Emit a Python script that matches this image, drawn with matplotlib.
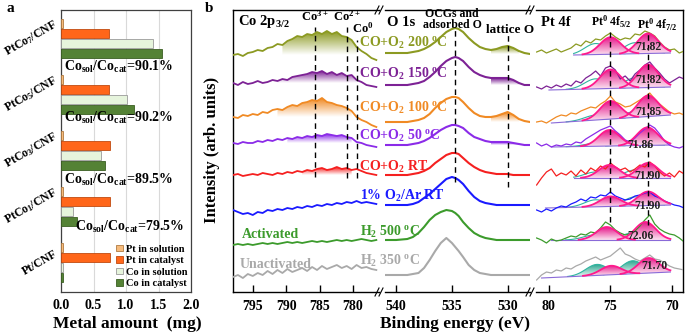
import numpy as np
import matplotlib
matplotlib.use('Agg')
import matplotlib.pyplot as plt
from matplotlib.patches import Polygon
from matplotlib.colors import to_rgb
from matplotlib.lines import Line2D
from matplotlib.ticker import FormatStrFormatter

# ---------------- data: panel a ----------------
categories = ['PtCo$_7$/CNF', 'PtCo$_5$/CNF', 'PtCo$_3$/CNF', 'PtCo$_1$/CNF', 'Pt/CNF']
pt_solution = [0.03, 0.03, 0.03, 0.03, 0.03]
pt_catalyst = [0.74, 0.74, 0.75, 0.75, 0.76]
co_solution = [1.42, 1.02, 0.62, 0.19, 0.03]
co_catalyst = [1.56, 1.13, 0.68, 0.24, 0.03]
ratio_labels = ['90.1%', '90.2%', '89.5%', '79.5%']
legend_labels = ['Pt in solution', 'Pt in catalyst', 'Co in solution', 'Co in catalyst']

# ---------------- data: panel b ----------------
conditions = ['CO+O$_2$ 200 $^o$C', 'CO+O$_2$ 150 $^o$C', 'CO+O$_2$ 100 $^o$C',
              'CO+O$_2$ 50 $^o$C', 'CO+O$_2$ RT', '1% O$_2$/Ar RT',
              'H$_2$ 500 $^o$C', 'H$_2$ 350 $^o$C']
pt_peak_labels = ['71.82', '71.82', '71.85', '71.86', '71.90', '71.90', '72.06', '71.70']

# Co 2p3/2 spectra (relative intensity)
co_x = np.linspace(798.0, 776.5, 30)
co_olive = [0, 1, -1, 2, 3, 5, 4, 7, 8, 11, 10, 14, 16, 19, 18, 21, 20, 23, 21, 24, 21, 23, 19, 18, 15, 8, 4, 1, -3, -5]
co_purple = [0, -2, 1, -1, 0, 2, 0, 1, 3, 2, 4, 3, 6, 7, 8, 9, 11, 10, 12, 9, 11, 8, 10, 7, 8, 3, 1, -2, -3, -4]
co_orange = [0, -1, 2, 1, 3, 2, 5, 4, 7, 8, 7, 10, 12, 11, 14, 15, 17, 16, 19, 15, 14, 12, 11, 9, 6, 0, -3, -5, -8, -10]
co_violet = [0, -1, 1, 0, 0, 2, 1, 3, 2, 4, 3, 5, 4, 6, 5, 7, 6, 8, 7, 9, 8, 7, 8, 6, 5, 1, 0, -2, -3, -4]
co_red = [0, 1, -1, 0, 1, 0, 2, 1, 0, 2, 1, 3, 2, 4, 3, 5, 4, 6, 7, 5, 6, 8, 6, 7, 5, 6, 4, 2, 1, 0]
co_blue = [0, -2, -4, -3, -5, -2, -3, 0, -1, 1, 0, 2, 1, 3, 2, 4, 3, 5, 4, 6, 5, 7, 6, 8, 7, 9, 7, 8, 7, 6]
co_green = [0, 1, 0, 1, 0, 1, 2, 1, 2, 1, 2, 3, 2, 3, 2, 3, 4, 3, 4, 3, 4, 5, 4, 5, 4, 5, 6, 5, 4, 5]
co_gray = [0, 2, -1, 3, 1, 4, 2, 6, 3, 7, 4, 8, 5, 7, 9, 6, 10, 7, 11, 8, 10, 12, 9, 11, 8, 12, 9, 10, 8, 7]
co_spectra = [co_olive, co_purple, co_orange, co_violet, co_red, co_blue, co_green, co_gray]

# O 1s spectra
o_x = [541, 540, 539, 538.5, 538, 537.5, 537, 536.5, 536, 535.5, 535, 534.7, 534.4, 534,
       533.5, 533, 532.5, 532, 531.5, 531, 530.5, 530, 529.5, 529, 528.5, 528]
o_olive = [0, 0, 0, 1, 2, 4, 7, 11, 16, 21, 24, 25, 24, 21, 15, 10, 6, 4, 3, 4, 6, 7, 5, 2, 0, -1]
o_purple = [0, 0, 0, 1, 2, 4, 8, 13, 19, 24, 27, 28, 27, 24, 18, 13, 10, 8, 7, 7, 7, 7, 5, 2, 0, 0]
o_orange = [0, 0, 0, 1, 2, 4, 8, 14, 19, 23, 25, 25, 24, 20, 14, 9, 6, 5, 5, 6, 8, 10, 7, 3, 1, 0]
o_violet = [0, 0, 0, 1, 2, 4, 7, 11, 15, 18, 20, 20, 19, 17, 12, 8, 6, 4, 3, 3, 3, 3, 2, 1, 0, 0]
o_red = [0, 0, 0, 1, 2, 4, 7, 12, 16, 20, 22, 22, 21, 17, 12, 8, 5, 3, 2, 1, 1, 1, 0, 0, 0, 0]
o_blue = [0, 0, 0, 1, 3, 7, 11, 16, 21, 26, 28, 27, 25, 21, 14, 8, 4, 2, 1, 0, 0, 0, 0, 0, 0, 0]
o_green = [0, 0, 1, 3, 7, 13, 20, 25, 28, 30, 29, 27, 24, 18, 12, 7, 4, 2, 1, 0, 0, 0, 0, 0, 0, 0]
o_gray = [0, 0, 0, 1, 2, 7, 15, 24, 32, 37, 32, 28, 24, 18, 10, 5, 2, 1, 0, 0, 0, 0, 0, 0, 0, 0]
o_spectra = [o_olive, o_purple, o_orange, o_violet, o_red, o_blue, o_green, o_gray]

# Pt 4f raw spectra
pt_x = np.linspace(81.0, 69.0, 31)
pt_olive = [3, 5, 2, 4, 6, 3, 5, 7, 11, 9, 14, 12, 16, 15, 19, 22, 18, 15, 17, 16, 21, 20, 24, 22, 19, 13, 8, 5, 6, 2, 4]
pt_purple = [3, 1, 4, 2, 5, 3, 6, 4, 9, 7, 12, 15, 19, 14, 22, 24, 20, 11, 14, 9, 16, 20, 25, 28, 22, 17, 11, 7, 10, 13, 11]
pt_orange = [1, 2, 0, 3, 6, 8, 7, 10, 9, 12, 14, 16, 15, 19, 22, 27, 21, 19, 16, 17, 20, 23, 26, 30, 24, 19, 15, 11, 9, 10, 8]
pt_violet = [4, 1, 3, 0, 2, 1, 3, 2, 5, 4, 8, 11, 14, 17, 19, 21, 16, 12, 7, 5, 9, 14, 18, 22, 19, 13, 6, 2, 0, -1, 1]
pt_red = [-7, 0, 6, 9, 2, 5, 3, 7, 2, 8, 4, 10, 7, 12, 9, 15, 11, 8, 10, 6, 9, 13, 11, 16, 12, 6, 2, 5, 1, 7, 4]
pt_blue = [-2, -4, -1, -3, 0, 2, 1, 4, 6, 9, 7, 11, 10, 13, 12, 16, 12, 10, 8, 9, 12, 13, 15, 16, 12, 10, 7, 5, 3, 2, 0]
pt_green = [2, 0, -3, 1, -1, 0, 2, 4, 3, 6, 5, 8, 7, 12, 18, 15, 10, 7, 5, 6, 9, 14, 20, 25, 16, 11, 8, 6, 5, 2, -2]
pt_gray = [-2, 3, 6, 5, 8, 7, 10, 9, 12, 14, 17, 19, 21, 18, 20, 22, 26, 30, 24, 22, 19, 17, 20, 23, 19, 18, 15, 12, 10, 9, 8]
pt_spectra = [pt_olive, pt_purple, pt_orange, pt_violet, pt_red, pt_blue, pt_green, pt_gray]

# Pt 4f fitted components (centre eV, height)
pt72_center = [71.95, 71.95, 71.95, 72.0, 71.95, 71.95, 72.15, 71.9]
pt72_height = [20, 23, 21, 18, 15, 14, 18, 15]
pt52_center = [75.0, 75.0, 75.0, 75.1, 75.1, 75.0, 75.3, 74.95]
pt52_height = [17, 19, 18, 16, 13, 10, 13, 9]
teal1_center = [76.2, 76.2, 76.2, 76.2, 76.2, 76.2, 76.3, 76.1]
teal1_height = [11, 10, 5, 3, 6, 7, 5, 11]
teal2_center = [73.0, 73.0, 73.0, 73.0, 73.0, 73.0, 73.2, 73.2]
teal2_height = [11, 10, 6, 4, 8, 9, 7, 13]
pt_bg_start = [78.0, 80.0, 79.8, 79.8, 78.0, 80.3, 79.8, 80.6]
pt_bg_rise = [2, 3, 8, 2, 0, 3, 0, 6]

# ---------------- layout / style ----------------
W, H = 685, 333
colors = ['#8c9a22', '#7d2295', '#f08a24', '#8b2be8', '#f52020', '#1a1aff', '#3c9b2c', '#a9a9a9']
co_base = [55, 83, 117, 143, 175, 210, 245, 277]
o_base = [53, 85, 122, 145, 175, 205, 240, 275]
pt_base = [55, 90, 123, 147, 178, 208, 240, 278]
YB = 292

plt.rcParams['font.family'] = ['Liberation Serif', 'DejaVu Serif']
plt.rcParams['font.weight'] = 'bold'
plt.rcParams['mathtext.fontset'] = 'custom'
plt.rcParams['mathtext.rm'] = 'Liberation Serif:bold'
plt.rcParams['mathtext.it'] = 'Liberation Serif:bold'
plt.rcParams['mathtext.bf'] = 'Liberation Serif:bold'
plt.rcParams['mathtext.default'] = 'rm'

fig = plt.figure(figsize=(6.85, 3.33), dpi=100)


def fx(px):
    return px / W


def fy(py):
    return 1 - py / H


def ftext(px, py, s, **kw):
    fig.text(fx(px), fy(py), s, **kw)


def grad_fill(ax, x, ytop, ybot, color, z, bot='white'):
    x = np.asarray(x, float)
    ytop = np.asarray(ytop, float)
    ybot = np.asarray(ybot, float)
    verts = np.concatenate([np.column_stack([x, ytop]), np.column_stack([x[::-1], ybot[::-1]])])
    poly = Polygon(verts, closed=True, facecolor='none', edgecolor='none')
    ax.add_patch(poly)
    c0 = np.array(to_rgb(bot))
    c1 = np.array(to_rgb(color))
    t = np.linspace(0, 1, 64)[:, None]
    img = (c0 * (1 - t) + c1 * t)[:, None, :]
    im = ax.imshow(img, extent=[x.min(), x.max(), ybot.min(), ytop.max()], origin='lower',
                   aspect='auto', zorder=z, interpolation='bilinear')
    im.set_clip_path(poly)


def gauss(x, c, h, s):
    return h * np.exp(-0.5 * ((x - c) / s) ** 2)


# ---------------- panel a ----------------
axa = fig.add_axes([fx(61), fy(292), (191 - 61) / W, (292 - 10) / H])
ypos = np.arange(len(categories))[::-1].astype(float)
bh = 0.165
axa.barh(ypos + 1.5 * 0.178, pt_solution, height=bh, color='#f6bb7c', edgecolor='#b07a40', lw=0.6, label=legend_labels[0], zorder=3)
axa.barh(ypos + 0.5 * 0.178, pt_catalyst, height=bh, color='#ff661a', edgecolor='#c04a10', lw=0.6, label=legend_labels[1], zorder=3)
axa.barh(ypos - 0.5 * 0.178, co_solution, height=bh, color='#e6f4dc', edgecolor='#9a9a9a', lw=0.6, label=legend_labels[2], zorder=3)
axa.barh(ypos - 1.5 * 0.178, co_catalyst, height=bh, color='#548235', edgecolor='#3b5f22', lw=0.6, label=legend_labels[3], zorder=3)
axa.set_xlim(0, 2.0)
axa.set_ylim(-0.53, 4.51)
axa.set_xticks([0, 0.5, 1.0, 1.5, 2.0])
axa.xaxis.set_major_formatter(FormatStrFormatter('%.1f'))
axa.set_yticks([])
axa.tick_params(axis='x', length=0, pad=5, labelsize=10)
axa.grid(axis='x', color='#d9d9d9', lw=0.8, zorder=0)
for sp in axa.spines.values():
    sp.set_color('#404040')
    sp.set_linewidth(0.9)
ftext(127, 324, 'Metal amount  (mg)', fontsize=12.5, ha='center', va='center')
for i, c in enumerate(categories):
    axa.text(-0.01, ypos[i], c, transform=axa.get_yaxis_transform(), ha='right', va='center',
             rotation=30, fontsize=8.5)
ratio_pos = [(0.045, 3.49), (0.045, 2.58), (0.045, 1.47), (0.21, 0.63)]
for (rx, ry), r in zip(ratio_pos, ratio_labels):
    axa.text(rx, ry, 'Co$_{sol}$/Co$_{cat}$=' + r, fontsize=10, va='center', ha='left', zorder=5)
axa.legend(loc='lower right', frameon=False, prop={'size': 7.5, 'weight': 'bold'},
           handlelength=0.6, handleheight=0.6, handletextpad=0.3, labelspacing=0.25,
           borderaxespad=0.15, borderpad=0.2)

# ---------------- panel b axes ----------------
ax_co = fig.add_axes([fx(233), fy(292), (379 - 233) / W, 282 / H])
ax_o = fig.add_axes([fx(385), fy(292), (530 - 385) / W, 282 / H])
ax_pt = fig.add_axes([fx(536), fy(292), (683 - 536) / W, 282 / H])
for ax in (ax_co, ax_o, ax_pt):
    ax.set_facecolor('none')
    ax.set_yticks([])
    ax.tick_params(axis='x', direction='in', length=5, width=1, labelsize=10, pad=6)
    for sp in ax.spines.values():
        sp.set_linewidth(1.0)
ax_co.spines['right'].set_visible(False)
ax_o.spines['left'].set_visible(False)
ax_o.spines['right'].set_visible(False)
ax_pt.spines['left'].set_visible(False)

# Co 2p
co_fill = [(791, 779), (791.5, 779), (792, 779.5), (790, 779.5), (788, 779.5)]
for i, spec in enumerate(co_spectra):
    base = YB - co_base[i]
    y = base + np.asarray(spec, float)
    if i < 5:
        lo, hi = co_fill[i][1], co_fill[i][0]
        m = (co_x >= lo) & (co_x <= hi)
        grad_fill(ax_co, co_x[m], np.maximum(y[m], base), np.full(m.sum(), base), colors[i], 1)
    ax_co.plot(co_x, y, color=colors[i], lw=1.3, zorder=3)
for xv, y0, y1 in [(785.7, 115, 265), (780.9, 114, 265), (779.4, 114, 252)]:
    ax_co.plot([xv, xv], [y0, y1], color='k', lw=1.0, ls=(0, (4, 3)), zorder=4)
ax_co.set_xlim(798.0, 776.1)
ax_co.set_ylim(0, 282)
ax_co.set_xticks([795, 790, 785, 780])

# O 1s
ox = np.asarray(o_x, float)
for i, spec in enumerate(o_spectra):
    base = YB - o_base[i]
    y = base + np.asarray(spec, float)
    if i < 4:
        m = (ox <= 531.5) & (ox >= 528.8)
        grad_fill(ax_o, ox[m], y[m], np.full(m.sum(), base + min(spec[-6:])), colors[i], 1)
    ax_o.plot(ox, y, color=colors[i], lw=1.5, zorder=3)
for xv, y0, y1 in [(534.7, 110, 262), (530.0, 105, 257)]:
    ax_o.plot([xv, xv], [y0, y1], color='k', lw=1.0, ls=(0, (4, 3)), zorder=4)
ax_o.set_xlim(541.0, 528.0)
ax_o.set_ylim(0, 282)
ax_o.set_xticks([540, 535, 530])

# Pt 4f
xf = np.linspace(81.0, 69.0, 300)
for i, spec in enumerate(pt_spectra):
    base = YB - pt_base[i]
    xs, xe = pt_bg_start[i], 70.1
    mb = (xf <= xs) & (xf >= xe)
    xb = xf[mb]
    bg = base + pt_bg_rise[i] * (xs - xb) / (xs - xe)
    g1 = gauss(xb, teal1_center[i], teal1_height[i], 0.9)
    g2 = gauss(xb, teal2_center[i], teal2_height[i], 0.9)
    p5 = gauss(xb, pt52_center[i], pt52_height[i], 0.85)
    p7 = gauss(xb, pt72_center[i], pt72_height[i], 0.85)
    for g, c in [(g1, teal1_center[i]), (g2, teal2_center[i])]:
        mm = np.abs(xb - c) < 2.4
        if i == 7:
            grad_fill(ax_pt, xb[mm], bg[mm] + g[mm], bg[mm], '#2aa58f', 1, bot='#eefaf6')
        ax_pt.plot(xb[mm], bg[mm] + g[mm], color='#2fb5a0', lw=0.8, zorder=2)
    for g, c in [(p5, pt52_center[i]), (p7, pt72_center[i])]:
        mm = np.abs(xb - c) < 2.3
        grad_fill(ax_pt, xb[mm], bg[mm] + g[mm], bg[mm], '#e6178a', 2, bot='#fbe3f1')
        ax_pt.plot(xb[mm], bg[mm] + g[mm], color='#ff1a8c', lw=1.3, zorder=4)
    ax_pt.plot(xb, bg, color='#8a6ad8', lw=0.8, zorder=3)
    ax_pt.plot(pt_x, base + np.asarray(spec, float), color=colors[i], lw=0.9, zorder=3)
for xv, y0, y1 in [(75.0, 70, 260), (71.95, 67, 260)]:
    ax_pt.plot([xv, xv], [y0, y1], color='k', lw=1.0, ls=(0, (4, 3)), zorder=4)
ax_pt.set_xlim(81.05, 69.1)
ax_pt.set_ylim(0, 282)
ax_pt.set_xticks([80, 75, 70])

# break marks
for bx in (379, 530):
    for yy in (292, 10):
        for dx in (-2, 2):
            fig.add_artist(Line2D([fx(bx + dx - 2), fx(bx + dx + 2)], [fy(yy + 4), fy(yy - 4)],
                                  transform=fig.transFigure, color='k', lw=0.8))

# ---------------- texts ----------------
ftext(6, 8, 'a', fontsize=11, va='center')
ftext(205, 8, 'b', fontsize=11, va='center')
ftext(212, 150, 'Intensity (arb. units)', fontsize=12, rotation=90, ha='center', va='center')
ftext(455, 324, 'Binding energy (eV)', fontsize=12.5, ha='center', va='center')

ftext(238, 22, 'Co 2p$_{3/2}$', fontsize=10.5, va='center')
ftext(315, 16, 'Co$^{3+}$', fontsize=9, ha='center', va='center')
ftext(347, 16, 'Co$^{2+}$', fontsize=9, ha='center', va='center')
ftext(363, 28, 'Co$^{0}$', fontsize=9, ha='center', va='center')
ftext(387, 22, 'O 1s', fontsize=10.5, va='center')
ftext(452, 14, 'OCGs and', fontsize=8.5, ha='center', va='center')
ftext(452, 25, 'adsorbed O', fontsize=8.5, ha='center', va='center')
ftext(510, 30, 'lattice O', fontsize=9.5, ha='center', va='center')
ftext(541, 22, 'Pt 4f', fontsize=10.5, va='center')
ftext(611, 22, 'Pt$^0$ 4f$_{5/2}$', fontsize=8.5, ha='center', va='center')
ftext(657, 25, 'Pt$^0$ 4f$_{7/2}$', fontsize=8.5, ha='center', va='center')

cond_pos = [(359, 43), (359, 74), (359, 108), (359, 136), (359, 167), (360, 196), (360, 232), (360, 261)]
for (px, py), s, c in zip(cond_pos, conditions, colors):
    ftext(px, py, s, fontsize=10, color=c, va='center')
ftext(242, 234, 'Activated', fontsize=10, color=colors[6], va='center')
ftext(240, 264, 'Unactivated', fontsize=10, color=colors[7], va='center')

val_pos = [(648, 47), (648, 80), (648, 112), (641, 145), (648, 176), (648, 206), (641, 236), (655, 266)]
for (px, py), s in zip(val_pos, pt_peak_labels):
    ftext(px, py, s, fontsize=8.5, ha='center', va='center', color='#222222')

fig.savefig('out.png', dpi=100)
